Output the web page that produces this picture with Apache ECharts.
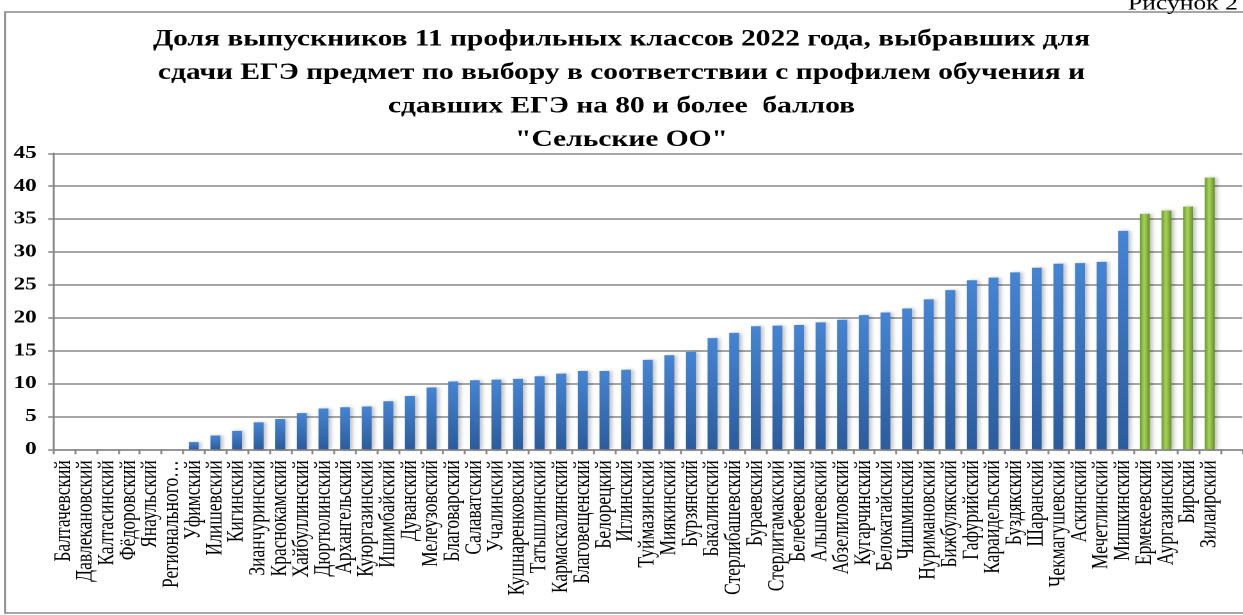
<!DOCTYPE html>
<html>
<head>
<meta charset="utf-8">
<script src="https://cdn.jsdelivr.net/npm/echarts@6/dist/echarts.min.js"></script>
<style>
html,body{margin:0;padding:0;background:#fff;overflow:hidden;}
#wrap{width:1243px;height:615px;overflow:hidden;position:relative;}
#chart{width:971px;height:615px;transform:scaleX(1.28012);transform-origin:0 0;}
</style>
</head>
<body>
<div id="wrap"><div id="chart"></div></div>
<script>
var categories = ["Балтачевский","Давлекановский","Калтасинский","Фёдоровский","Янаульский","Регионального…","Уфимский","Илишевский","Кигинский","Зианчуринский","Краснокамский","Хайбуллинский","Дюртюлинский","Архангельский","Куюргазинский","Ишимбайский","Дуванский","Мелеузовский","Благоварский","Салаватский","Учалинский","Кушнаренковский","Татышлинский","Кармаскалинский","Благовещенский","Белорецкий","Иглинский","Туймазинский","Миякинский","Бурзянский","Бакалинский","Стерлибашевский","Бураевский","Стерлитамакский","Белебеевский","Альшеевский","Абзелиловский","Кугарчинский","Белокатайский","Чишминский","Нуримановский","Бижбулякский","Гафурийский","Караидельский","Буздякский","Шаранский","Чекмагушевский","Аскинский","Мечетлинский","Мишкинский","Ермекеевский","Аургазинский","Бирский","Зилаирский",""];
var values = [0,0,0,0,0,0,1.1,2.1,2.8,4.1,4.6,5.5,6.2,6.4,6.5,7.3,8.1,9.4,10.3,10.5,10.6,10.7,11.1,11.5,11.9,11.9,12.1,13.6,14.3,14.8,16.9,17.7,18.7,18.8,18.9,19.3,19.7,20.4,20.8,21.4,22.8,24.2,25.7,26.1,26.9,27.6,28.2,28.3,28.5,33.2,35.8,36.3,36.9,41.3,null];
var highlighted = ["Ермекеевский","Аургазинский","Бирский","Зилаирский"];
var yTicks = {min:0, max:45, interval:5};
var titleLines = ["Доля выпускников 11 профильных классов 2022 года, выбравших для","сдачи ЕГЭ предмет по выбору в соответствии с профилем обучения и","сдавших ЕГЭ на 80 и более  баллов","\"Сельские ОО\""];
var figureLabel = "Рисунок 2";

var blue = new echarts.graphic.LinearGradient(0,0,0,1,[{offset:0,color:'#4585d4'},{offset:1,color:'#2b5c9d'}]);
var green = new echarts.graphic.LinearGradient(0,0,1,0,[{offset:0,color:'#6a9a2a'},{offset:0.45,color:'#a6d45a'},{offset:1,color:'#638f24'}]);

var seriesData = values.map(function(v,i){
  var isG = highlighted.indexOf(categories[i]) >= 0;
  return {value:v, itemStyle:{color: isG ? green : blue}};
});

var chart = echarts.init(document.getElementById('chart'), null, {renderer:'canvas', devicePixelRatio:2});
chart.setOption({
  animation:false,
  backgroundColor:'#fff',
  title:{
    text: titleLines.join('\n'),
    left:'center', top:18,
    textStyle:{fontFamily:'Liberation Serif', fontWeight:'bold', fontSize:23, lineHeight:33.5, color:'#000'}
  },
  graphic:[
    {type:'rect', shape:{x:3.9, y:12, width:1000, height:601}, style:{fill:'none', stroke:'#8a8a8a', lineWidth:1.5}, silent:true, z:-1},
    {type:'text', x:967, y:14, style:{text:figureLabel, font:'20px "Liberation Serif"', fill:'#000', align:'right', verticalAlign:'bottom'}}
  ],
  grid:{left:41.6, right:0.7, top:153.3, bottom:165.7, containLabel:false},
  xAxis:{
    type:'category', data:categories,
    axisLine:{lineStyle:{color:'#878787', width:1.5}},
    axisTick:{show:true, alignWithLabel:false, length:5, lineStyle:{color:'#878787', width:1.5}},
    axisLabel:{interval:0, rotate:90, margin:11, fontFamily:'Liberation Serif', fontSize:17.5, color:'#000'}
  },
  yAxis:{
    type:'value', min:yTicks.min, max:yTicks.max, interval:yTicks.interval,
    axisLine:{show:true, lineStyle:{color:'#878787', width:1.5}},
    axisTick:{show:true, length:4, lineStyle:{color:'#878787', width:1.5}},
    splitLine:{lineStyle:{color:'#878787', width:1.5}},
    axisLabel:{margin:13, fontFamily:'Liberation Serif', fontWeight:'bold', fontSize:18, color:'#000'}
  },
  series:[{
    type:'bar', data:seriesData, barWidth:'46%',
    itemStyle:{shadowColor:'rgba(0,0,0,0.25)', shadowBlur:3, shadowOffsetX:2, shadowOffsetY:0}
  }]
});
</script>
</body>
</html>
